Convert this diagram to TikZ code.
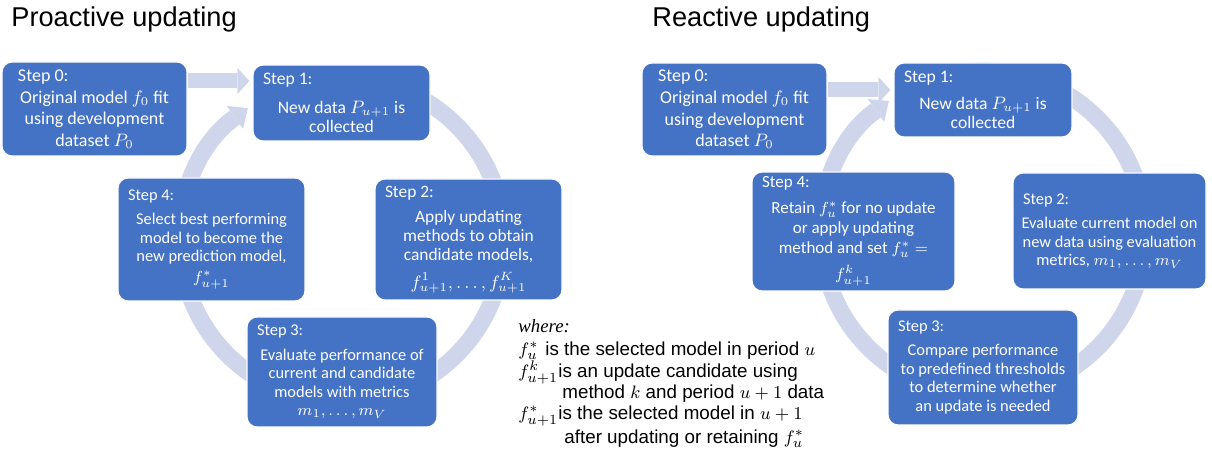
\documentclass[tikz,border=0pt]{standalone}
\usepackage[no-math]{fontspec}
\setmainfont{Carlito}
\newfontfamily\arialfont{Liberation Sans}
\newfontfamily\timesfont{Liberation Serif}
\usetikzlibrary{arrows.meta}
\definecolor{boxblue}{RGB}{68,114,196}
\definecolor{ringblue}{RGB}{207,213,234}
\lineskiplimit=-6pt
\newcommand{\steplabel}[2][2pt]{\makebox[\linewidth][l]{\hspace{#1}#2}}

\begin{document}
\begin{tikzpicture}[x=0.5pt,y=-0.5pt,
  stepbox/.style={fill=boxblue,draw=white,line width=0.6pt,rounded corners=5pt,text=white,
    align=flush center,inner xsep=3pt,inner ysep=2pt,font=\fontsize{8.2}{9.25}\selectfont},
  cycle/.style={draw=ringblue,line width=8.5pt,-{Triangle[width=14pt,length=8pt,line width=0pt]}},
  blockarrow/.style={draw=ringblue,line width=7.5pt,shorten >=1.5pt,
    -{Triangle[width=13pt,length=6pt,line width=0pt]}},
  paneltitle/.style={font=\arialfont\fontsize{13.6}{16}\selectfont,anchor=base west,inner sep=0pt},
  keytext/.style={font=\arialfont\fontsize{9.4}{10.4}\selectfont,anchor=base west,inner sep=0pt}]
  \useasboundingbox (0,0) rectangle (1212,453);

  \node[paneltitle] (t1) at (11,27) {Proactive updating};
  \node[paneltitle] (t2) at (652,27) {Reactive updating};

  % cycles behind the boxes
  \coordinate (lc) at (342,240);
  \coordinate (rc) at (983,233);
  \draw[cycle] (lc) ++(250:162) arc[start angle=250,end angle=594.5,radius=162];
  \draw[cycle] (rc) ++(250:162) arc[start angle=250,end angle=594.5,radius=162];

  % proactive
  \node[stepbox,font=\fontsize{9}{10.8}\selectfont,text width=86.5pt,minimum height=47pt] (s0) at (94.5,109)
    {\steplabel[5pt]{Step 0:}\\Original model $f_0$ fit\\using development\\dataset $P_0$};
  \node[stepbox,font=\fontsize{8.8}{9.5}\selectfont,text width=82.5pt,minimum height=38pt] (s1) at (341.5,103)
    {\steplabel{Step 1:}\\[5pt]New data $P_{u+1}$ is\\collected};
  \node[stepbox,font=\fontsize{8.7}{9.5}\selectfont,text width=87.5pt,minimum height=60.5pt] (s2) at (468.5,239.5)
    {\steplabel{Step 2:}\\[3pt]Apply updating\\methods to obtain\\candidate models,\\[4.5pt]$f_{u+1}^1,\dots,f_{u+1}^K$};
  \node[stepbox,text width=89pt,minimum height=55pt] (s3) at (342,372)
    {\steplabel{Step 3:}\\[3pt]Evaluate performance of\\current and candidate\\models with metrics\\$m_1,\dots,m_V$};
  \node[stepbox,text width=87.5pt,minimum height=61.5pt] (s4) at (211.5,239.5)
    {\steplabel{Step 4:}\\[3pt]Select best performing\\model to become the\\new prediction model,\\[1pt]$f_{u+1}^*$};
  \coordinate (a1) at ([yshift=11pt]s1.west);
  \draw[blockarrow] (s0.east |- a1) -- (a1);

  % reactive
  \node[stepbox,font=\fontsize{9}{10.8}\selectfont,text width=86.5pt,minimum height=46.5pt] (r0) at (734.5,109.5)
    {\steplabel[5pt]{Step 0:}\\Original model $f_0$ fit\\using development\\dataset $P_0$};
  \node[stepbox,font=\fontsize{8.8}{9.5}\selectfont,text width=83pt,minimum height=37pt] (r1) at (983,100)
    {\steplabel{Step 1:}\\[4pt]New data $P_{u+1}$ is\\collected};
  \node[stepbox,text width=90.5pt,minimum height=58pt] (r2) at (1109.5,231)
    {\steplabel{Step 2:}\\[3pt]Evaluate current model on\\new data using evaluation\\metrics, $m_1,\dots,m_V$};
  \node[stepbox,text width=89pt,minimum height=57.5pt] (r3) at (983,367.5)
    {\steplabel{Step 3:}\\[3pt]Compare performance\\to predefined thresholds\\to determine whether\\an update is needed};
  \node[stepbox,font=\fontsize{8.5}{10}\selectfont,text width=95.5pt,minimum height=59.5pt] (r4) at (853.5,231.5)
    {\steplabel{Step 4:}\\[3pt]Retain $f_u^*$ for no update\\or apply updating\\method and set $f_u^*=$\\[3pt]$f_{u+1}^k$};
  \coordinate (a2) at ([yshift=5pt]r1.west);
  \draw[blockarrow] (r0.east |- a2) -- (a2);

  % key
  \node[keytext] (k0) at (518,333) {\timesfont\itshape where:};
  \node[keytext] (k1) at (518,356) {\makebox[13.5pt][l]{$f_u^*$}is the selected model in period $u$};
  \node[keytext] (k2) at (518,378) {\makebox[20pt][l]{$f_{u+1}^k$}is an update candidate using};
  \node[keytext] (k3) at (562,399) {method $k$ and period $u+1$ data};
  \node[keytext] (k4) at (518,420) {\makebox[20pt][l]{$f_{u+1}^*$}is the selected model in $u+1$};
  \node[keytext] (k5) at (564,444) {after updating or retaining $f_u^*$};
\end{tikzpicture}
\end{document}
